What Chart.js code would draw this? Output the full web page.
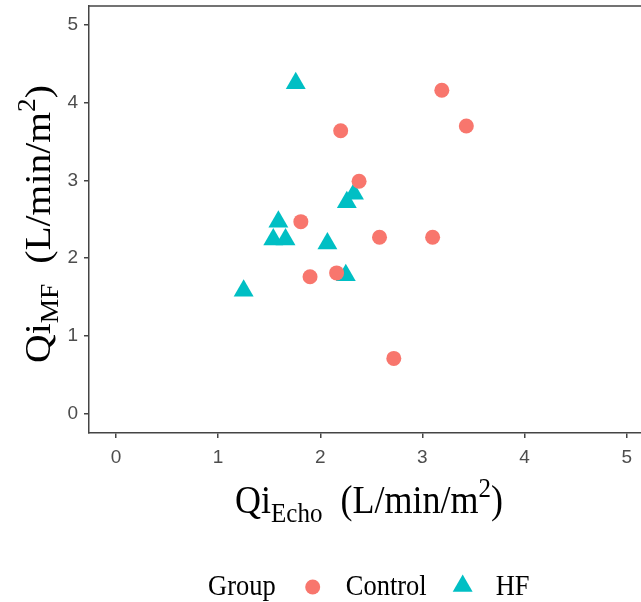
<!DOCTYPE html>
<html lang="en">
<head>
  <meta charset="UTF-8">
  <title>Qi MF vs Qi Echo</title>
  <script src="https://cdn.jsdelivr.net/npm/chart.js"></script>
  <style>
    body {
      margin: 0;
      background: #fff;
    }
    canvas {
      display: block;
    }
  </style>
</head>
<body>
  <canvas id="scatterChart" width="641" height="602"></canvas>

  <script>
    // values
    const groups = ['Control', 'HF'];
    const controlX = [2.20, 3.19, 3.43, 2.38, 1.81, 1.90, 2.16, 2.58, 3.10, 2.72];
    const controlY = [3.64, 4.16, 3.70, 2.99, 2.47, 1.76, 1.81, 2.27, 2.27, 0.71];
    const hfX = [1.76, 1.59, 1.54, 1.66, 2.07, 2.26, 2.33, 2.25, 1.25];
    const hfY = [4.25, 2.47, 2.24, 2.24, 2.19, 2.72, 2.83, 1.78, 1.58];
    const xTicks = [0, 1, 2, 3, 4, 5];
    const yTicks = [0, 1, 2, 3, 4, 5];

    const colors = ['#F8766D', '#00BFC4'];
    const axisColor = '#444444';
    const serif = "'Liberation Serif', 'Times New Roman', serif";

    function toPoints(xs, ys) {
      return xs.map((x, i) => ({ x: x, y: ys[i] }));
    }

    // draws a row of text pieces (sub/superscripts) centred on 0
    function drawPieces(ctx, pieces) {
      let total = 0;
      pieces.forEach(p => {
        ctx.font = p.size + 'px ' + serif;
        p.w = ctx.measureText(p.t).width;
        total += p.w;
      });
      let x = -total / 2;
      pieces.forEach(p => {
        ctx.font = p.size + 'px ' + serif;
        ctx.fillText(p.t, x, p.dy || 0);
        x += p.w;
      });
    }

    const stretch = 1.1;

    const extras = {
      id: 'extras',
      afterDraw(chart) {
        const ctx = chart.ctx;
        const area = chart.chartArea;

        // top edge of the panel
        ctx.save();
        ctx.strokeStyle = axisColor;
        ctx.lineWidth = 1.5;
        ctx.beginPath();
        ctx.moveTo(area.left, area.top);
        ctx.lineTo(area.right, area.top);
        ctx.stroke();
        ctx.restore();

        ctx.save();
        ctx.fillStyle = '#000';
        ctx.textBaseline = 'alphabetic';

        // x title
        ctx.save();
        ctx.translate(369, 513);
        ctx.scale(1, stretch);
        drawPieces(ctx, [
          { t: 'Qi', size: 36 },
          { t: 'Echo', size: 25, dy: 8 },
          { t: '  (L/min/m', size: 36 },
          { t: '2', size: 25, dy: -15 },
          { t: ')', size: 36 }
        ]);
        ctx.restore();

        // y title
        ctx.save();
        ctx.translate(50, 224);
        ctx.scale(1, stretch);
        ctx.rotate(-Math.PI / 2);
        drawPieces(ctx, [
          { t: 'Qi', size: 36 },
          { t: 'MF', size: 25, dy: 8 },
          { t: '  (L/min/m', size: 36 },
          { t: '2', size: 25, dy: -15 },
          { t: ')', size: 36 }
        ]);
        ctx.restore();

        // legend
        const ly = 595;
        let lx = 208;
        ctx.font = '26.5px ' + serif;
        ctx.save();
        ctx.translate(lx, ly);
        ctx.scale(1, stretch);
        ctx.fillText('Group', 0, 0);
        ctx.restore();
        lx += ctx.measureText('Group').width + 37;

        const styles = ['circle', 'triangle'];
        const radii = [7.5, 11.5];
        groups.forEach((g, i) => {
          ctx.fillStyle = colors[i];
          Chart.helpers.drawPoint(ctx, {
            pointStyle: styles[i], radius: radii[i], borderWidth: 0, rotation: 0
          }, lx, 587 - (i === 1 ? 1 : 0));
          lx += 33;
          ctx.fillStyle = '#000';
          ctx.font = '26.5px ' + serif;
          ctx.save();
          ctx.translate(lx, ly);
          ctx.scale(1, stretch);
          ctx.fillText(g, 0, 0);
          ctx.restore();
          lx += ctx.measureText(g).width + 36;
        });
        ctx.restore();
      }
    };

    const tickFont = { family: "'Liberation Sans', Arial, sans-serif", size: 19 };

    new Chart(document.getElementById('scatterChart'), {
      type: 'scatter',
      data: {
        datasets: [{
          label: groups[0],
          data: toPoints(controlX, controlY),
          pointStyle: 'circle',
          pointRadius: 7.5,
          pointHoverRadius: 7.5,
          backgroundColor: colors[0],
          borderWidth: 0
        }, {
          label: groups[1],
          data: toPoints(hfX, hfY),
          pointStyle: 'triangle',
          pointRadius: 11.5,
          pointHoverRadius: 11.5,
          backgroundColor: colors[1],
          borderWidth: 0
        }]
      },
      options: {
        responsive: false,
        animation: false,
        layout: { autoPadding: false, padding: { top: 6, right: 0, bottom: 0, left: 0 } },
        plugins: {
          legend: { display: false },
          tooltip: { enabled: false }
        },
        scales: {
          x: {
            type: 'linear',
            min: -0.264,
            max: 5.14,
            afterBuildTicks: scale => { scale.ticks = xTicks.map(v => ({ value: v })); },
            afterFit: scale => {
              scale.height = 169;
              scale.paddingLeft = 0;
              scale.paddingRight = 0;
            },
            grid: {
              drawOnChartArea: false,
              drawTicks: true,
              tickLength: 5,
              color: axisColor,
              lineWidth: 1.5
            },
            border: { display: true, color: axisColor, width: 1.5 },
            ticks: { color: '#4d4d4d', font: tickFont, padding: 8, maxRotation: 0 }
          },
          y: {
            type: 'linear',
            min: -0.25,
            max: 5.245,
            afterBuildTicks: scale => { scale.ticks = yTicks.map(v => ({ value: v })); },
            afterFit: scale => {
              scale.width = 89;
              scale.paddingTop = 0;
              scale.paddingBottom = 0;
            },
            grid: {
              drawOnChartArea: false,
              drawTicks: true,
              tickLength: 5,
              color: axisColor,
              lineWidth: 1.5
            },
            border: { display: true, color: axisColor, width: 1.5 },
            ticks: { color: '#4d4d4d', font: tickFont, padding: 6 }
          }
        }
      },
      plugins: [extras]
    });
  </script>
</body>
</html>
